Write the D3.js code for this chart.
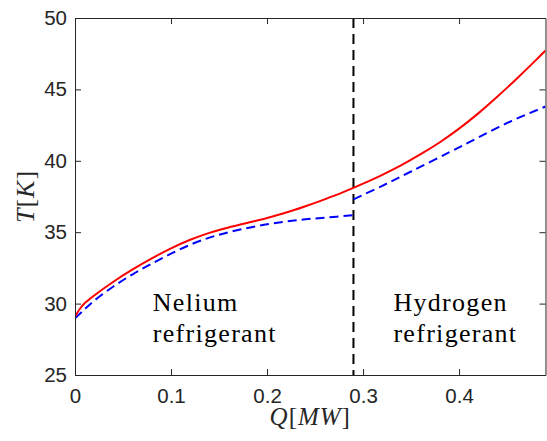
<!DOCTYPE html>
<html>
<head>
<meta charset="utf-8">
<script src="https://cdn.jsdelivr.net/npm/d3@7"></script>
<style>
  html, body { margin: 0; padding: 0; background: #fff; }
  svg { display: block; }
</style>
</head>
<body>
<svg id="chart" width="547" height="441"></svg>
<script>
// Heat load Q [MW] and temperature T [K]
const hotQ = [0, 0.005, 0.01, 0.02, 0.04, 0.06, 0.08, 0.10, 0.12, 0.14, 0.16, 0.18, 0.20, 0.22, 0.24, 0.26, 0.28, 0.30, 0.32, 0.34, 0.36, 0.38, 0.40, 0.42, 0.44, 0.46, 0.48, 0.49];
const hotT = [29.08, 29.62, 30.02, 30.57, 31.53, 32.39, 33.17, 33.87, 34.47, 34.95, 35.33, 35.66, 36.0, 36.38, 36.82, 37.3, 37.82, 38.4, 39.02, 39.7, 40.46, 41.3, 42.25, 43.32, 44.5, 45.75, 47.05, 47.72];

const neliumQ = [0, 0.01, 0.02, 0.04, 0.06, 0.08, 0.10, 0.12, 0.14, 0.16, 0.18, 0.20, 0.22, 0.24, 0.26, 0.289];
const neliumT = [28.97, 29.6, 30.2, 31.2, 32.05, 32.8, 33.5, 34.12, 34.62, 35.0, 35.3, 35.55, 35.75, 35.9, 36.02, 36.18];

const hydrogenQ = [0.29, 0.32, 0.35, 0.39, 0.42, 0.455, 0.49];
const hydrogenT = [37.3, 38.25, 39.25, 40.6, 41.63, 42.8, 43.8];

const switchQ = 0.29;

const xTicks = [0, 0.1, 0.2, 0.3, 0.4];
const yTicks = [25, 30, 35, 40, 45, 50];

const regionLabels = [
  { q: 0.081, lines: ["Nelium", "refrigerant"] },
  { q: 0.3316, lines: ["Hydrogen", "refrigerant"] }
];

const svg = d3.select("#chart");
const m = { left: 75, right: 545.5, top: 18, bottom: 375 };

const x = d3.scaleLinear().domain([0, 0.49]).range([m.left, m.right]);
const y = d3.scaleLinear().domain([25, 50]).range([m.bottom, m.top]);

const axisColor = "#262626";
const tickFont = "Liberation Sans, Arial, sans-serif";
const mathFont = "Liberation Serif, Times New Roman, serif";

const line = d3.line().x(d => x(d[0])).y(d => y(d[1])).curve(d3.curveCatmullRom.alpha(0.5));

svg.append("clipPath").attr("id", "plotArea")
  .append("rect").attr("x", m.left).attr("y", m.top)
  .attr("width", m.right - m.left).attr("height", m.bottom - m.top);

const plot = svg.append("g").attr("clip-path", "url(#plotArea)");

// boundary between the two refrigerant stages
plot.append("line")
  .attr("x1", x(switchQ)).attr("x2", x(switchQ))
  .attr("y1", y(50)).attr("y2", y(25))
  .attr("stroke", "#000").attr("stroke-width", 2)
  .attr("stroke-dasharray", "10,6");

// cold-side curves (dashed blue), one per refrigerant
[[neliumQ, neliumT], [hydrogenQ, hydrogenT]].forEach(([qs, ts]) => {
  plot.append("path")
    .datum(qs.map((q, i) => [q, ts[i]]))
    .attr("d", line).attr("fill", "none")
    .attr("stroke", "#0000ff").attr("stroke-width", 2)
    .attr("stroke-dasharray", "9,5");
});

// hot-side curve (solid red)
plot.append("path")
  .datum(hotQ.map((q, i) => [q, hotT[i]]))
  .attr("d", line).attr("fill", "none")
  .attr("stroke", "#ff0000").attr("stroke-width", 2);

// axes with inward ticks, mirrored on top and right
function styleAxis(g) {
  g.select(".domain").attr("stroke", axisColor).attr("stroke-width", 1);
  g.selectAll(".tick line").attr("stroke", axisColor).attr("stroke-width", 1);
  g.selectAll(".tick text").attr("fill", axisColor)
    .style("font-family", tickFont).style("font-size", "20.5px");
}

const xAxis = svg.append("g").attr("transform", `translate(0,${m.bottom})`)
  .call(d3.axisBottom(x).tickValues(xTicks).tickSizeInner(-6).tickSizeOuter(0).tickPadding(13)
    .tickFormat(d => d === 0 ? "0" : d3.format(".1f")(d)));
styleAxis(xAxis);

const xAxisTop = svg.append("g").attr("transform", `translate(0,${m.top})`)
  .call(d3.axisTop(x).tickValues(xTicks).tickSizeInner(-6).tickSizeOuter(0).tickFormat(""));
styleAxis(xAxisTop);

const yAxis = svg.append("g").attr("transform", `translate(${m.left},0)`)
  .call(d3.axisLeft(y).tickValues(yTicks).tickSizeInner(-6).tickSizeOuter(0).tickPadding(8));
styleAxis(yAxis);

const yAxisRight = svg.append("g").attr("transform", `translate(${m.right},0)`)
  .call(d3.axisRight(y).tickValues(yTicks).tickSizeInner(-6).tickSizeOuter(0).tickFormat(""));
styleAxis(yAxisRight);

// axis titles
const xl = svg.append("text")
  .attr("x", (m.left + m.right) / 2).attr("y", 425)
  .attr("text-anchor", "middle")
  .attr("fill", axisColor)
  .style("font-family", mathFont).style("font-size", "25px")
  .style("letter-spacing", "1px");
xl.append("tspan").style("font-style", "italic").text("Q");
xl.append("tspan").text("[");
xl.append("tspan").style("font-style", "italic").text("MW");
xl.append("tspan").text("]");

const yl = svg.append("text")
  .attr("transform", `translate(34,${(m.top + m.bottom) / 2}) rotate(-90)`)
  .attr("text-anchor", "middle")
  .attr("fill", axisColor)
  .style("font-family", mathFont).style("font-size", "26px")
  .style("letter-spacing", "1px");
yl.append("tspan").style("font-style", "italic").text("T");
yl.append("tspan").text("[");
yl.append("tspan").style("font-style", "italic").text("K");
yl.append("tspan").text("]");

// region annotations
regionLabels.forEach(r => {
  r.lines.forEach((s, i) => {
    svg.append("text")
      .attr("x", x(r.q))
      .attr("y", y(29.5) + i * 31)
      .attr("fill", "#000")
      .style("font-family", mathFont)
      .style("font-size", "26px")
      .style("letter-spacing", "1.3px")
      .text(s);
  });
});
</script>
</body>
</html>
